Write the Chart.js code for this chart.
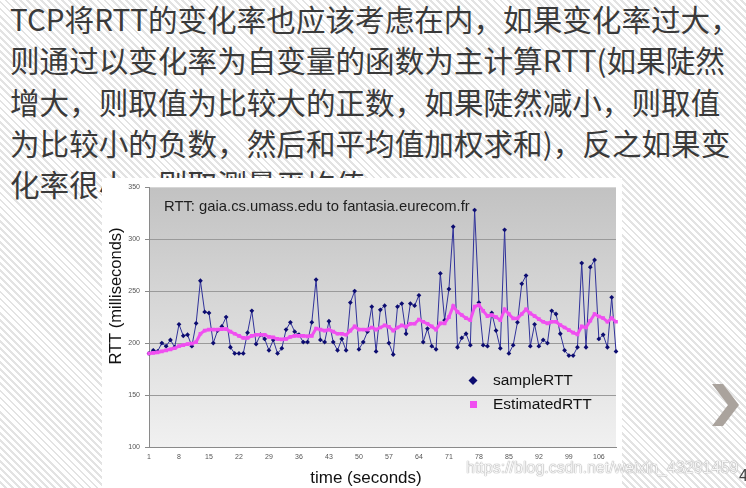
<!DOCTYPE html>
<html>
<head>
<meta charset="utf-8">
<script src="https://cdn.jsdelivr.net/npm/chart.js@4/dist/chart.umd.min.js"></script>
<style>
  html, body { margin:0; padding:0; }
  body {
    width:746px; height:488px; overflow:hidden; position:relative;
    background: repeating-linear-gradient(45deg, #ffffff 0px, #ffffff 3px, #e3e3e3 3px, #e3e3e3 5px);
  }
  #txt {
    position:absolute; left:10px; top:-2px; width:740px;
    font-family:"Noto Sans CJK SC", sans-serif; font-size:29.6px; line-height:41.3px;
    color:#3a3a3a; white-space:nowrap;
  }
  #chartBox {
    position:absolute; left:102px; top:178px; width:520px; height:310px; background:#ffffff;
  }
  #wm {
    position:absolute; left:466px; top:459px; font-family:"Liberation Sans", Arial, sans-serif;
    font-size:16px; color:#f6f6f6; text-shadow:0 0 1px #9a9a9a, 0 0 1px #9a9a9a; white-space:nowrap;
  }
  #pg {
    position:absolute; left:739px; top:467px; font-family:"Liberation Sans", Arial, sans-serif;
    font-size:16px; color:#444;
  }
  #arrow { position:absolute; left:0; top:0; }
</style>
</head>
<body>
<div id="txt">TCP将RTT的变化率也应该考虑在内，如果变化率过大，<br>则通过以变化率为自变量的函数为主计算RTT(如果陡然<br>增大，则取值为比较大的正数，如果陡然减小，则取值<br>为比较小的负数，然后和平均值加权求和)，反之如果变<br>化率很小，则取测量平均值</div>
<div id="chartBox"><canvas id="c" width="520" height="310"></canvas></div>
<svg id="arrow" width="746" height="488"><polygon points="712,384 723,384 739,405 723,426 712,426 728,405" fill="#aaa39d"/></svg>
<div id="wm">https://blog.csdn.net/weixin_43291459</div>
<div id="pg">4</div>
<script>
const timeLabels = [1,2,3,4,5,6,7,8,9,10,11,12,13,14,15,16,17,18,19,20,
  21,22,23,24,25,26,27,28,29,30,31,32,33,34,35,36,37,38,39,40,
  41,42,43,44,45,46,47,48,49,50,51,52,53,54,55,56,57,58,59,60,
  61,62,63,64,65,66,67,68,69,70,71,72,73,74,75,76,77,78,79,80,
  81,82,83,84,85,86,87,88,89,90,91,92,93,94,95,96,97,98,99,100,
  101,102,103,104,105,106,107,108,109,110];

const sampleRTT = [190,193,192,200,197,203,196,218,207,208,
  197,219,260,230,229,200,212,216,225,196,
  190,190,190,210,231,199,208,204,193,203,
  190,195,213,220,211,208,201,201,220,261,
  203,201,221,201,193,204,193,239,250,194,
  201,211,235,192,232,236,200,189,235,238,
  209,238,236,246,201,214,197,194,267,222,
  252,312,196,205,209,198,328,239,198,197,
  229,212,195,309,190,198,220,257,265,197,
  218,197,203,200,231,228,209,193,188,188,
  196,277,196,273,280,204,208,196,244,192];

const estimatedRTT = [190,190.5,191,192,193,194,195,197,198,199,
  199.5,201,209,212,213,213,213,213.5,213.5,211,
  209,207,205,205,207,208,208,208,206,205.5,
  204,203.5,204,206,207,207,207,206.5,207,214,
  213,212,213,211,209,209,208,212,216,213,
  213,213,215,213,215,217,215.7,212,215,217,
  215.7,218.6,218.6,222.7,220.5,218.6,216,213,219,219,
  225,235.6,230,227,224,222,235,236.5,231,226,
  227,225,222,232.4,228,223.7,223.7,228,232.4,228.5,
  226,223,220.5,219,220.5,220.5,217.3,215,212.5,210,
  208.4,216,215,221.5,228,225.6,224,220.5,224,220.5];

const yTickValues = [100,150,200,250,300,350];
const xTickEvery = 7;
const chartTitle = "RTT: gaia.cs.umass.edu to fantasia.eurecom.fr";
const yTitle = "RTT (milliseconds)";
const xTitle = "time (seconds)";
const seriesNames = ["sampleRTT", "EstimatedRTT"];

const SAMPLE_LINE = "#30329a";
const SAMPLE_PT = "#0c0c70";
const EST = "#f04ff0";

const decor = {
  id: 'decor',
  beforeDraw(chart) {
    const {ctx, chartArea: a} = chart;
    const g = ctx.createLinearGradient(0, a.top, 0, a.bottom);
    g.addColorStop(0, '#c2c2c2');
    g.addColorStop(1, '#f1f1f1');
    ctx.save();
    ctx.fillStyle = g;
    ctx.fillRect(a.left, a.top, a.right - a.left, a.bottom - a.top);
    ctx.restore();
  },
  afterDraw(chart) {
    const {ctx, chartArea: a} = chart;
    ctx.save();
    // chart title inside plot
    ctx.fillStyle = '#1e1e1e';
    ctx.font = '14.8px "Liberation Sans", Arial, sans-serif';
    ctx.textBaseline = 'middle';
    ctx.textAlign = 'left';
    ctx.fillText(chartTitle, 62, 29);
    // legend
    ctx.font = '15.5px "Liberation Sans", Arial, sans-serif';
    ctx.fillStyle = '#111';
    ctx.fillText(seriesNames[0], 391, 203);
    ctx.fillText(seriesNames[1], 391, 227);
    // diamond
    ctx.fillStyle = SAMPLE_PT;
    ctx.beginPath();
    ctx.moveTo(371, 198); ctx.lineTo(375.5, 202.5); ctx.lineTo(371, 207); ctx.lineTo(366.5, 202.5);
    ctx.closePath(); ctx.fill();
    // square
    ctx.fillStyle = EST;
    ctx.fillRect(368, 223, 7, 7);
    // axis titles
    ctx.fillStyle = '#111';
    ctx.font = '16.5px "Liberation Sans", Arial, sans-serif';
    ctx.textAlign = 'center';
    ctx.save();
    ctx.translate(14, 118);
    ctx.rotate(-Math.PI / 2);
    ctx.fillText(yTitle, 0, 0);
    ctx.restore();
    ctx.font = '17px "Liberation Sans", Arial, sans-serif';
    ctx.fillText(xTitle, 264, 300);
    ctx.restore();
  }
};

new Chart(document.getElementById('c'), {
  type: 'line',
  data: {
    labels: timeLabels,
    datasets: [
      {
        label: seriesNames[1],
        data: estimatedRTT,
        order: 0,
        borderColor: EST,
        backgroundColor: EST,
        borderWidth: 3,
        pointStyle: 'rect',
        pointRadius: 2.6,
        pointBorderWidth: 0,
        pointBackgroundColor: EST,
        tension: 0
      },
      {
        label: seriesNames[0],
        data: sampleRTT,
        order: 1,
        borderColor: SAMPLE_LINE,
        backgroundColor: SAMPLE_PT,
        borderWidth: 1,
        pointStyle: 'rectRot',
        pointRadius: 2.4,
        pointBorderWidth: 0,
        pointBackgroundColor: SAMPLE_PT,
        tension: 0
      }
    ]
  },
  options: {
    responsive: false,
    animation: false,
    devicePixelRatio: 1,
    layout: { padding: { top: 8, right: 5, left: 0, bottom: 0 } },
    plugins: { legend: { display: false }, tooltip: { enabled: false }, title: { display: false } },
    scales: {
      x: {
        type: 'category',
        offset: false,
        afterFit(s) { s.height = 41; },
        grid: { drawOnChartArea: false, drawTicks: false },
        border: { display: true, color: '#8a8a8a', width: 1 },
        ticks: {
          autoSkip: false, maxRotation: 0, minRotation: 0, padding: 6,
          font: { size: 7, family: '"Liberation Sans", Arial, sans-serif' }, color: '#555',
          callback(v, i) { return i % xTickEvery === 0 ? String(timeLabels[i]) : ''; }
        }
      },
      y: {
        min: yTickValues[0],
        max: yTickValues[yTickValues.length - 1],
        afterFit(s) { s.width = 47; },
        afterBuildTicks(s) { s.ticks = yTickValues.map(v => ({ value: v })); },
        grid: {
          color: (c) => c.tick && c.tick.value === 350 ? '#d6d6d6' : '#9a9a9a',
          tickLength: 4, tickColor: '#8a8a8a', lineWidth: 1
        },
        border: { display: true, color: '#8a8a8a', width: 1 },
        ticks: {
          padding: 5, font: { size: 7, family: '"Liberation Sans", Arial, sans-serif' }, color: '#555'
        }
      }
    }
  },
  plugins: [decor]
});
</script>
</body>
</html>
